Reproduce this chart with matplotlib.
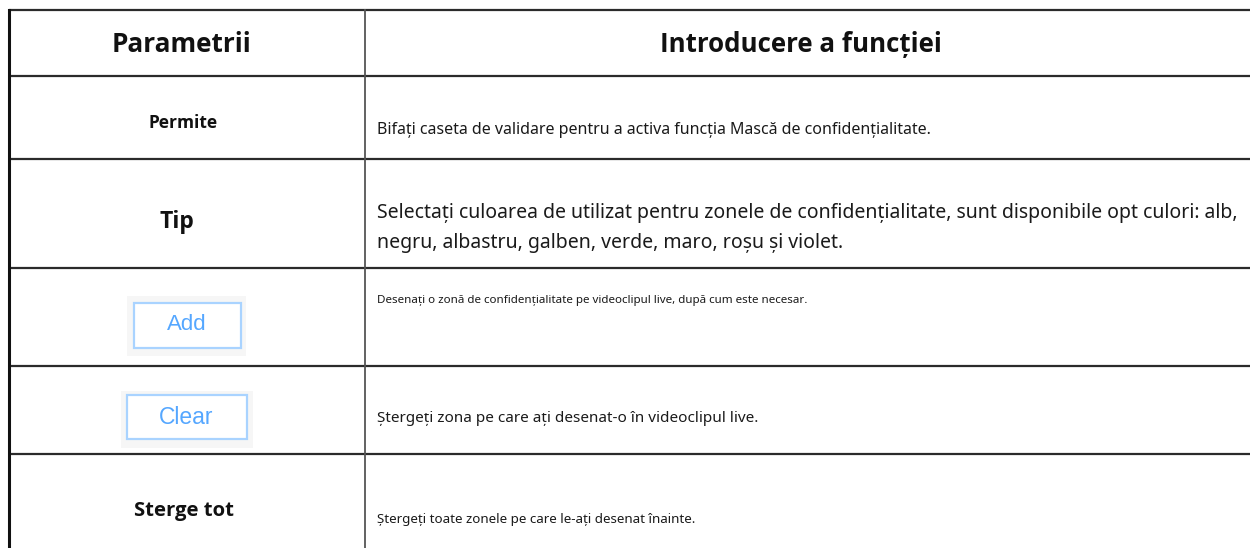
import matplotlib.pyplot as plt
from matplotlib.patches import Rectangle

# table content
headers = ['Parametrii', 'Introducere a funcției']
params = ['Permite', 'Tip', 'Add', 'Clear', 'Sterge tot']
descriptions = [
    'Bifați caseta de validare pentru a activa funcția Mască de confidențialitate.',
    'Selectați culoarea de utilizat pentru zonele de confidențialitate, sunt disponibile opt culori: alb,\n'
    'negru, albastru, galben, verde, maro, roșu și violet.',
    'Desenați o zonă de confidențialitate pe videoclipul live, după cum este necesar.',
    'Ștergeți zona pe care ați desenat-o în videoclipul live.',
    'Ștergeți toate zonele pe care le-ați desenat înainte.',
]
is_button = [False, False, True, True, False]

# layout (pixels)
row_edges = [10, 75.7, 158.5, 267.7, 365.7, 454.3, 548]
col_left, col_mid, col_right = 8.5, 364.7, 1250
param_size = [12.5, 16.5, 16, 16.5, 14.6]
desc_size = [11.5, 14, 8.35, 11, 9.6]
param_x = [183, 176.5, 187, 186.5, 183.5]
param_y = [123, 222, 325, 417, 511]
desc_y = [130, 228, 300, 419, 519]
btn_outer = [None, None, (127, 296, 119, 60), (121, 391, 132, 57), None]
btn_inner = [None, None, (133.5, 303, 107.5, 45), (126.5, 394.5, 120, 44.5), None]

bold_font = ['Open Sans', 'DejaVu Sans']
plt.rcParams['font.family'] = ['Noto Sans', 'DejaVu Sans']

fig = plt.figure(figsize=(12.5, 5.48), dpi=100)
ax = fig.add_axes([0, 0, 1, 1])
ax.set_xlim(0, 1250)
ax.set_ylim(548, 0)
ax.axis('off')

line_c = '#2b2b2b'
for y in row_edges[:-1]:
    ax.plot([col_left, col_right], [y, y], color=line_c, lw=1.6, solid_capstyle='butt')
ax.plot([col_left, col_left], [row_edges[0], 548], color='#111111', lw=2.2)
ax.plot([col_mid, col_mid], [row_edges[0], 548], color='#555555', lw=1.3)

# header
ax.text(182, 44, headers[0], ha='center', va='center', family=bold_font,
        fontsize=18.8, fontweight='bold', color='#111111')
ax.text(801, 44, headers[1], ha='center', va='center', family=bold_font,
        fontsize=18.6, fontweight='bold', color='#111111')

for i, p in enumerate(params):
    if is_button[i]:
        x, y, w, h = btn_outer[i]
        ax.add_patch(Rectangle((x, y), w, h, facecolor='#f6f6f6', edgecolor='none'))
        x, y, w, h = btn_inner[i]
        ax.add_patch(Rectangle((x, y), w, h, facecolor='white', edgecolor='#a9d3ff', lw=1.6))
        ax.text(x + w / 2, param_y[i], p, ha='center', va='center', fontsize=param_size[i],
                family='Liberation Sans', color='#55a7ff')
    else:
        ax.text(param_x[i], param_y[i], p, ha='center', va='center', fontsize=param_size[i],
                family=bold_font, fontweight='bold', color='#111111')
    ax.text(377, desc_y[i], descriptions[i], ha='left', va='center', fontsize=desc_size[i],
            color='#1a1a1a', linespacing=1.65)

fig.savefig('out.png', dpi=100)
